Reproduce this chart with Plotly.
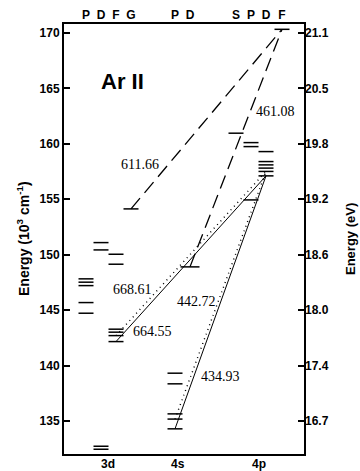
import plotly.graph_objects as go

# ---------------- data ----------------
config_labels = ["3d", "4s", "4p"]
terms_3d = ["P", "D", "F", "G"]
terms_4s = ["P", "D"]
terms_4p = ["S", "P", "D", "F"]

# level energies (10^3 cm^-1) per configuration / term column
levels_3d_P = [144.72, 145.68, 147.21, 147.52, 147.82]
levels_3d_D = [132.45, 132.72, 150.43, 151.09]
levels_3d_F = [142.16, 142.70, 143.01, 143.28, 149.14, 150.04]
levels_3d_G = [154.13]
levels_4s_P = [134.29, 135.17, 135.64, 138.35, 139.31]
levels_4s_D = [148.90]
levels_4p_S = [160.96]
levels_4p_P = [154.94, 159.75, 160.11]
levels_4p_D = [157.11, 157.51, 157.81, 158.10, 158.40, 159.30]
levels_4p_F = [170.33]

# transitions (wavelength label, lower level, upper level, style)
wavelengths = ["611.66", "461.08", "668.61", "664.55", "442.72", "434.93"]
lower_cfg = ["3d", "4s", "3d", "3d", "4s", "4s"]
lower_term = ["G", "D", "F", "F", "P", "P"]
lower_E = [154.13, 148.90, 142.70, 142.16, 135.17, 134.29]
upper_cfg = ["4p", "4p", "4p", "4p", "4p", "4p"]
upper_term = ["F", "F", "D", "D", "D", "D"]
upper_E = [170.33, 170.33, 157.51, 157.11, 157.51, 157.11]
line_kind = ["dash", "dash", "dot", "solid", "dot", "solid"]

# energy axis ticks
cm_ticks = [135, 140, 145, 150, 155, 160, 165, 170]
ev_tick_labels = ["16.7", "17.4", "18.0", "18.6", "19.2", "19.8", "20.5", "21.1"]

# ---------------- layout constants ----------------
CFG_X = {"3d": 44, "4s": 114, "4p": 195}
TERM_X = {
    ("3d", "P"): 22, ("3d", "D"): 37, ("3d", "F"): 52, ("3d", "G"): 67,
    ("4s", "P"): 111, ("4s", "D"): 126,
    ("4p", "S"): 172, ("4p", "P"): 187, ("4p", "D"): 202, ("4p", "F"): 218,
}
HALF_W = 7.5
XR = [0, 240]
YR = [132.02, 170.81]

level_sets = [
    ("3d", "P", levels_3d_P), ("3d", "D", levels_3d_D), ("3d", "F", levels_3d_F),
    ("3d", "G", levels_3d_G), ("4s", "P", levels_4s_P), ("4s", "D", levels_4s_D),
    ("4p", "S", levels_4p_S), ("4p", "P", levels_4p_P), ("4p", "D", levels_4p_D),
    ("4p", "F", levels_4p_F),
]

fig = go.Figure()

lx, ly = [], []
for cfg, term, energies in level_sets:
    cx = TERM_X[(cfg, term)]
    hw = HALF_W + (2 if (cfg, term) == ("4s", "D") else 0)
    for e in energies:
        lx += [cx - hw, cx + hw, None]
        ly += [e, e, None]
fig.add_trace(go.Scatter(x=lx, y=ly, mode="lines", line=dict(color="black", width=1.5),
                         hoverinfo="skip", showlegend=False))

dash_map = {"dash": "14px,7px", "dot": "1px,4px", "solid": "solid"}
width_map = {"dash": 1.3, "dot": 1.4, "solid": 1.0}
for i, wl in enumerate(wavelengths):
    x0 = TERM_X[(lower_cfg[i], lower_term[i])]
    x1 = TERM_X[(upper_cfg[i], upper_term[i])]
    fig.add_trace(go.Scatter(
        x=[x0, x1], y=[lower_E[i], upper_E[i]], mode="lines",
        line=dict(color="black", width=width_map[line_kind[i]], dash=dash_map[line_kind[i]]),
        hoverinfo="skip", showlegend=False))

# invisible trace to activate secondary axes
fig.add_trace(go.Scatter(x=[XR[0]], y=[YR[0]], xaxis="x2", yaxis="y2", mode="markers",
                         marker=dict(opacity=0), hoverinfo="skip", showlegend=False))

# wavelength labels
label_pos = {
    "611.66": (76, 158.10), "461.08": (211, 162.88), "668.61": (68.5, 146.83),
    "664.55": (88, 143.04), "442.72": (132, 145.74), "434.93": (156, 138.98),
}
serif = dict(family="Liberation Serif", size=14, color="black")
for wl in wavelengths:
    x, y = label_pos[wl]
    fig.add_annotation(x=x, y=y, text=wl, showarrow=False, font=serif,
                       xanchor="center", yanchor="middle")

fig.add_annotation(x=58, y=165.58, text="Ar II", showarrow=False,
                   font=dict(family="Liberation Sans", size=22, color="black", weight="bold"),
                   xanchor="center", yanchor="middle")

bold = dict(family="Liberation Sans", size=12, color="black", weight="bold")
title_font = dict(family="Liberation Sans", size=14, color="black", weight="bold")

# configuration labels under the plot
for c in config_labels:
    fig.add_annotation(x=CFG_X[c], xref="x", y=0, yref="paper", text=c, showarrow=False,
                       font=bold, xanchor="center", yanchor="top", yshift=-1)

fig.add_annotation(xref="paper", yref="paper", x=(23 - 64) / 240, y=0.5,
                   text="Energy (10<sup>3</sup> cm<sup>-1</sup>)", textangle=-90,
                   showarrow=False, font=title_font,
                   xanchor="center", yanchor="middle")
fig.add_annotation(xref="paper", yref="paper", x=(350 - 64) / 240, y=0.5,
                   text="Energy (eV)", textangle=-90,
                   showarrow=False, font=dict(title_font, size=13),
                   xanchor="center", yanchor="middle")

top_vals = [TERM_X[k] for k in TERM_X]
top_text = [k[1] for k in TERM_X]

fig.update_layout(
    template="none",
    width=360, height=471,
    margin=dict(l=64, r=56, t=24, b=17, autoexpand=False),
    paper_bgcolor="white", plot_bgcolor="white",
    showlegend=False,
    xaxis=dict(range=XR, showgrid=False, zeroline=False, showline=True, mirror=True,
               linecolor="black", linewidth=2, ticks="", automargin=False,
               showticklabels=False),
    xaxis2=dict(range=XR, overlaying="x", side="top", showgrid=False, zeroline=False,
                showline=False, ticks="", tickvals=top_vals, ticktext=top_text,
                tickfont=bold, ticklabelstandoff=2, automargin=False),
    yaxis=dict(range=YR, showgrid=False, zeroline=False, showline=True, mirror=True,
               linecolor="black", linewidth=2, ticks="inside", ticklen=6, tickwidth=2,
               tickcolor="black", tickvals=cm_ticks, ticktext=[str(v) for v in cm_ticks],
               tickfont=bold, automargin=False),
    yaxis2=dict(range=YR, overlaying="y", side="right", showgrid=False, zeroline=False,
                showline=False, ticks="inside", ticklen=6, tickwidth=2, tickcolor="black",
                tickvals=cm_ticks, ticktext=ev_tick_labels, tickfont=bold, automargin=False),
)

fig.write_html("out.html", config={"displayModeBar": False},
               post_script="document.body.style.margin='0';")
